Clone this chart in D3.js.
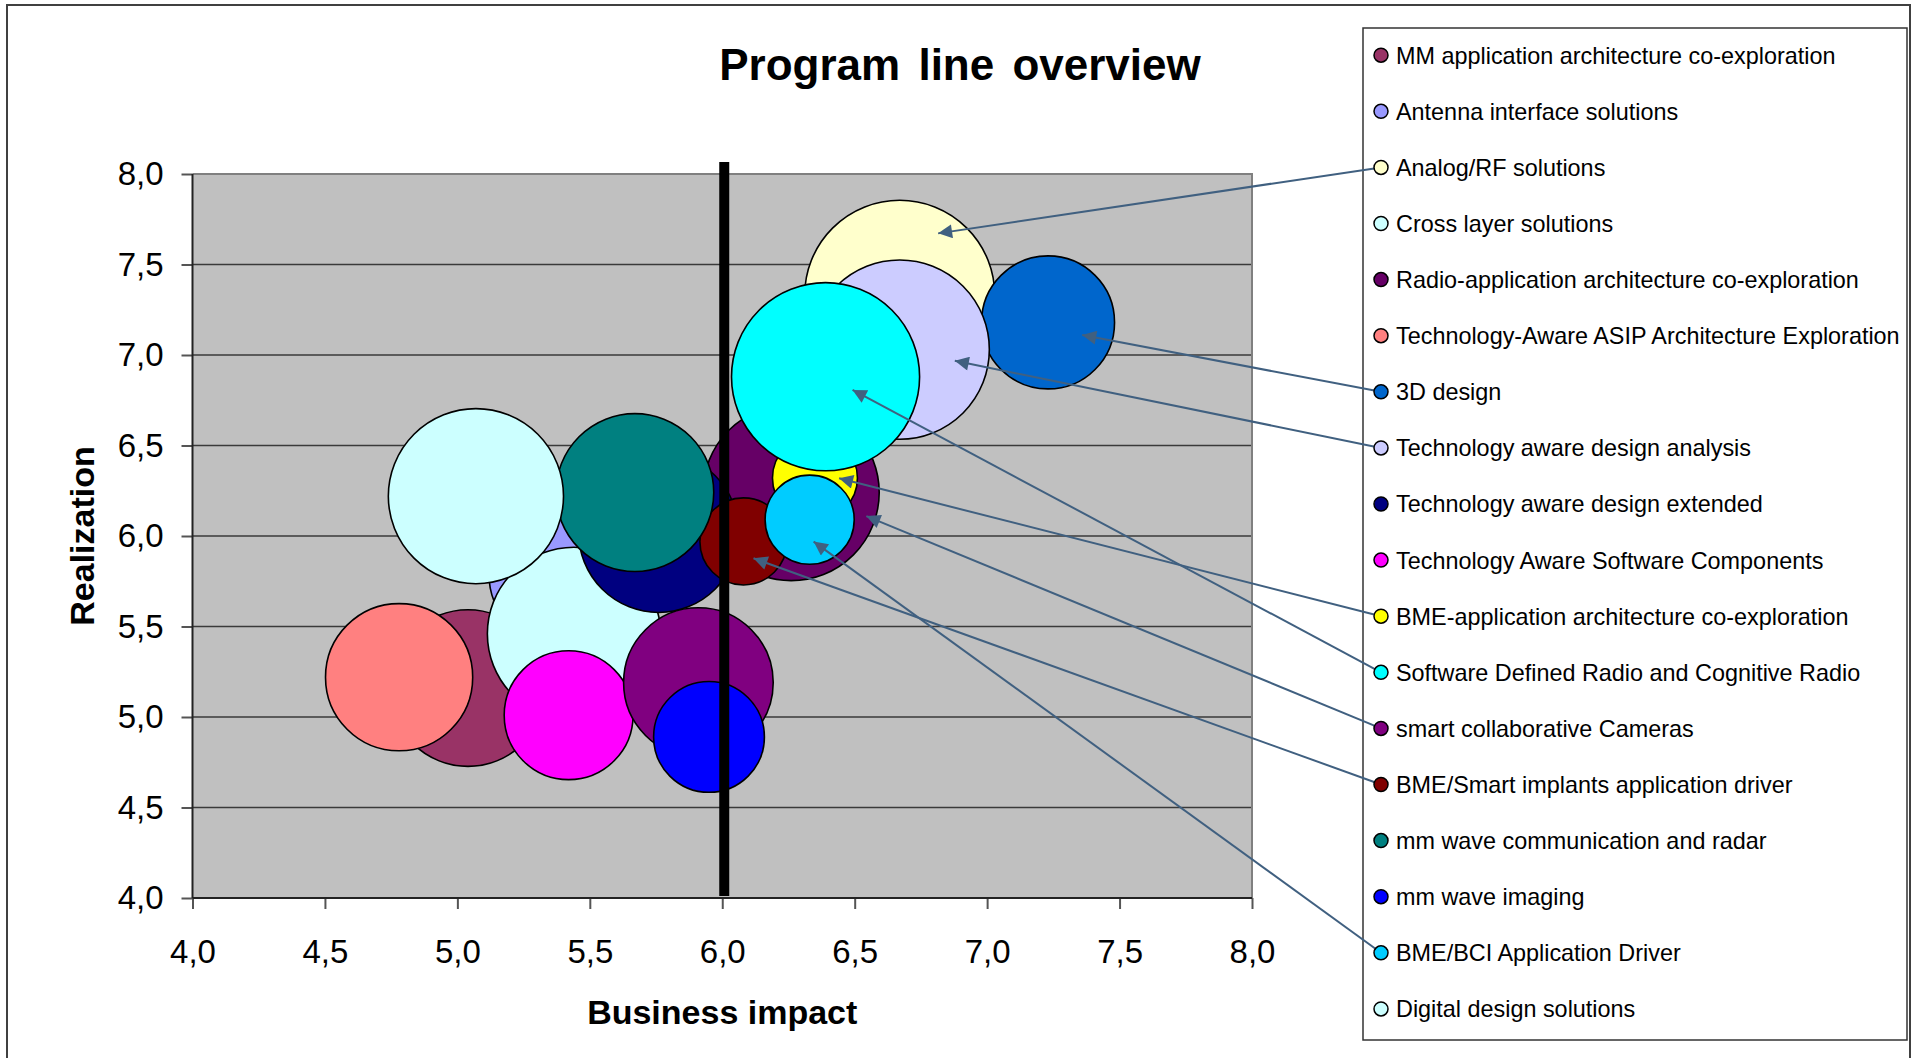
<!DOCTYPE html>
<html>
<head>
<meta charset="utf-8">
<script src="https://cdn.jsdelivr.net/npm/d3@7"></script>
<style>
    body { margin: 0; background: #fff; }
    text { font-family: "Liberation Sans", Arial, sans-serif; }
</style>
</head>
<body>
<div id="bubble-area"></div>
<script>
// program lines (legend order = draw order)
var names = [
    "MM application architecture co-exploration",
    "Antenna interface solutions",
    "Analog/RF solutions",
    "Cross layer solutions",
    "Radio-application architecture co-exploration",
    "Technology-Aware ASIP Architecture Exploration",
    "3D design",
    "Technology aware design analysis",
    "Technology aware design extended",
    "Technology Aware Software Components",
    "BME-application architecture co-exploration",
    "Software Defined Radio and Cognitive Radio",
    "smart collaborative Cameras",
    "BME/Smart implants application driver",
    "mm wave communication and radar",
    "mm wave imaging",
    "BME/BCI Application Driver",
    "Digital design solutions"
];
var businessImpact = [5.04, 5.39, 6.67, 5.44, 6.26, 4.78, 7.23, 6.67, 5.76, 5.42, 6.35, 6.39, 5.91, 6.08, 5.67, 5.95, 6.33, 5.07];
var realization    = [5.16, 5.79, 7.33, 5.46, 6.24, 5.22, 7.18, 7.03, 6.02, 5.01, 6.32, 6.88, 5.19, 5.97, 6.24, 4.89, 6.09, 6.22];
var bubbleSize     = [6.8, 5.7, 10, 8.3, 8.6, 6.0, 4.9, 8.9, 7.1, 4.6, 2.0, 9.8, 6.2, 2.1, 6.9, 3.4, 2.2, 8.5];
var colors = ["#993366", "#9999FF", "#FFFFCC", "#CCFFFF", "#660066", "#FF8080", "#0066CC", "#CCCCFF", "#000080",
              "#FF00FF", "#FFFF00", "#00FFFF", "#800080", "#800000", "#008080", "#0000FF", "#00CCFF", "#CCFFFF"];

var xTicks = [4.0, 4.5, 5.0, 5.5, 6.0, 6.5, 7.0, 7.5, 8.0];
var yTicks = [4.0, 4.5, 5.0, 5.5, 6.0, 6.5, 7.0, 7.5, 8.0];

// callout arrows: legend entry -> point inside the bubble
var arrowFrom = [2, 6, 7, 10, 11, 12, 13, 16];
var arrowX = [6.815, 7.359, 6.878, 6.441, 6.492, 6.544, 6.118, 6.345];
var arrowY = [7.672, 7.110, 6.968, 6.319, 6.807, 6.110, 5.877, 5.969];

var divider = 6.0;

var W = 1923, H = 1058;
var plot = {left: 192.5, right: 1252, top: 174, bottom: 898};
var fmt = function(v) { return d3.format(".1f")(v).replace(".", ","); };

var svg = d3.select("#bubble-area")
    .append("svg")
        .attr("width", W)
        .attr("height", H);

var defs = svg.append("defs");
defs.append("marker")
    .attr("id", "head")
    .attr("viewBox", "0 0 10 10")
    .attr("refX", 10)
    .attr("refY", 5)
    .attr("markerUnits", "userSpaceOnUse")
    .attr("markerWidth", 17)
    .attr("markerHeight", 14)
    .attr("orient", "auto")
    .append("path")
        .attr("d", "M0,0 L10,5 L0,10 z")
        .attr("fill", "#406080");

// outer chart frame
svg.append("rect")
    .attr("x", 7).attr("y", 5)
    .attr("width", 1903).attr("height", 1070)
    .attr("fill", "none")
    .attr("stroke", "#404040")
    .attr("stroke-width", 2);

var x = d3.scaleLinear().domain([4, 8]).range([plot.left, plot.right]);
var y = d3.scaleLinear().domain([4, 8]).range([plot.bottom, plot.top]);
var r = d3.scaleSqrt().domain([0, 10]).range([0, 95]);

// plot area
svg.append("rect")
    .attr("x", plot.left).attr("y", plot.top)
    .attr("width", plot.right - plot.left).attr("height", plot.bottom - plot.top)
    .attr("fill", "#C0C0C0");

svg.append("g")
    .attr("class", "grid")
    .selectAll("line")
    .data(yTicks.filter(function(d) { return d > 4 && d < 8; }))
    .enter()
    .append("line")
        .attr("x1", plot.left).attr("x2", plot.right)
        .attr("y1", function(d) { return y(d); })
        .attr("y2", function(d) { return y(d); })
        .attr("stroke", "#3a3a3a")
        .attr("stroke-width", 1.3);

// top + right border of plot area
svg.append("path")
    .attr("d", "M" + plot.left + "," + plot.top + "H" + plot.right + "V" + plot.bottom)
    .attr("fill", "none")
    .attr("stroke", "#808080")
    .attr("stroke-width", 2);

// axes
var xAxis = svg.append("g")
    .attr("class", "x-axis")
    .attr("transform", "translate(0," + plot.bottom + ")")
    .call(d3.axisBottom(x).tickValues(xTicks).tickFormat(fmt).tickSize(11).tickPadding(31));
var yAxis = svg.append("g")
    .attr("class", "y-axis")
    .attr("transform", "translate(" + plot.left + ",0)")
    .call(d3.axisLeft(y).tickValues(yTicks).tickFormat(fmt).tickSize(11).tickPadding(18));

svg.selectAll(".x-axis .domain, .y-axis .domain").remove();
svg.selectAll(".x-axis .tick line, .y-axis .tick line")
    .attr("stroke", "#555")
    .attr("stroke-width", 2);
svg.selectAll(".x-axis text, .y-axis text")
    .attr("font-family", "'Liberation Sans', Arial, sans-serif")
    .attr("font-size", 33)
    .attr("fill", "#000");

svg.append("line")
    .attr("x1", plot.left).attr("x2", plot.left)
    .attr("y1", plot.top).attr("y2", plot.bottom)
    .attr("stroke", "#222").attr("stroke-width", 2);
svg.append("line")
    .attr("x1", plot.left).attr("x2", plot.right)
    .attr("y1", plot.bottom).attr("y2", plot.bottom)
    .attr("stroke", "#222").attr("stroke-width", 2);

// bubbles
var bubbles = names.map(function(n, i) {
    return {name: n, x: businessImpact[i], y: realization[i], size: bubbleSize[i], color: colors[i]};
});

svg.append("g")
    .attr("class", "bubbles")
    .selectAll("circle")
    .data(bubbles)
    .enter()
    .append("circle")
        .attr("cx", function(d) { return x(d.x); })
        .attr("cy", function(d) { return y(d.y); })
        .attr("r", function(d) { return r(d.size); })
        .attr("fill", function(d) { return d.color; })
        .attr("stroke", "#000")
        .attr("stroke-width", 1.6);

// thick divider line at business impact 6,0
svg.append("rect")
    .attr("x", x(divider) - 3)
    .attr("y", plot.top - 12)
    .attr("width", 10)
    .attr("height", plot.bottom - plot.top + 10)
    .attr("fill", "#000");

// title + axis titles
svg.append("text")
    .attr("x", 960).attr("y", 80)
    .attr("text-anchor", "middle")
    .attr("font-size", 44)
    .attr("font-weight", "bold")
    .attr("word-spacing", 6)
    .text("Program line overview");

svg.append("text")
    .attr("x", (plot.left + plot.right) / 2).attr("y", 1024)
    .attr("text-anchor", "middle")
    .attr("font-size", 34)
    .attr("font-weight", "bold")
    .text("Business impact");

svg.append("text")
    .attr("transform", "translate(94," + ((plot.top + plot.bottom) / 2) + ") rotate(-90)")
    .attr("text-anchor", "middle")
    .attr("font-size", 34)
    .attr("font-weight", "bold")
    .text("Realization");

// legend
var leg = {left: 1363, top: 28, right: 1907, bottom: 1040, row0: 55.2, step: 56.1, mx: 1381, tx: 1396};

svg.append("rect")
    .attr("x", leg.left).attr("y", leg.top)
    .attr("width", leg.right - leg.left).attr("height", leg.bottom - leg.top)
    .attr("fill", "#fff")
    .attr("stroke", "#333")
    .attr("stroke-width", 1.5);

// arrows (under the legend markers)
svg.append("g")
    .attr("class", "arrows")
    .selectAll("line")
    .data(arrowFrom)
    .enter()
    .append("line")
        .attr("x1", leg.mx)
        .attr("y1", function(d) { return leg.row0 + d * leg.step; })
        .attr("x2", function(d, i) { return x(arrowX[i]); })
        .attr("y2", function(d, i) { return y(arrowY[i]); })
        .attr("stroke", "#406080")
        .attr("stroke-width", 2)
        .attr("marker-end", "url(#head)");

var rows = svg.append("g")
    .attr("class", "legend")
    .selectAll("g")
    .data(bubbles)
    .enter()
    .append("g")
        .attr("transform", function(d, i) { return "translate(0," + (leg.row0 + i * leg.step) + ")"; });

rows.append("circle")
    .attr("cx", leg.mx)
    .attr("r", 7)
    .attr("fill", function(d) { return d.color; })
    .attr("stroke", "#000")
    .attr("stroke-width", 1.5);

rows.append("text")
    .attr("x", leg.tx)
    .attr("dy", "0.36em")
    .attr("font-size", 23.4)
    .text(function(d) { return d.name; });
</script>
</body>
</html>
